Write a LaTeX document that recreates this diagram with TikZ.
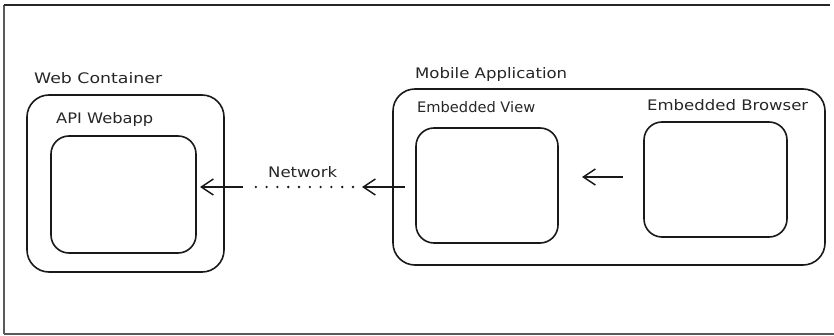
\documentclass[tikz,border=0pt]{standalone}
\usepackage{graphicx}
\usepackage{fontspec}
\setmainfont{DejaVu Sans}
\usetikzlibrary{arrows.meta}
% Stretch a label horizontally to a given width, keeping its height
\newcommand{\fitlabel}[2]{\resizebox{#1}{\height}{#2}}
\begin{document}
\begin{tikzpicture}[x=1pt,y=-1pt,
  box/.style={draw=black!90, line width=1.6pt, rounded corners=#1, inner sep=0pt},
  box/.default=18pt,
  lbl/.style={anchor=base west, inner sep=0pt, font=\fontsize{14.5}{16}\selectfont, text=black!85},
  arr/.style={draw=black!90, line width=1.6pt, -{Straight Barb[length=12pt,width=16pt,line width=1.5pt]}},
  net/.style={draw=black!90, line width=2.6pt, dash pattern=on 0pt off 10.8pt, line cap=round},
  frame/.style={line width=1.2pt, draw=black!65}]
\useasboundingbox (0,0) rectangle (834,336);

% page frame
\draw[frame] (4,334) -- (834,334);
\draw[frame] (4,5) -- (4,334);
\draw[line width=1.6pt, draw=black!85] (4,5) -- (830,5);

% containers
\node[box=22pt, minimum width=197pt, minimum height=177pt] (web) at (125.5,183.5) {};
\node[box=22pt, minimum width=432pt, minimum height=176pt] (mob) at (609,177) {};

% components
\node[box, minimum width=145pt, minimum height=117pt] (api) at (123.5,194.5) {};
\node[box, minimum width=142pt, minimum height=115pt] (ev) at (487,185.5) {};
\node[box, minimum width=143pt, minimum height=115pt] (eb) at (715.5,179.5) {};

% labels
\node[lbl] (webl) at (34,84) {\fitlabel{128pt}{Web Container}};
\node[lbl] (apil) at (56,124) {\fitlabel{97pt}{API Webapp}};
\node[lbl] (mobl) at (415,79) {\fitlabel{152pt}{Mobile Application}};
\node[lbl] (evl) at (417,113) {\fitlabel{118pt}{Embedded View}};
\node[lbl] (ebl) at (647,111) {\fitlabel{161pt}{Embedded Browser}};
\node[lbl] (netl) at (268,178) {\fitlabel{69pt}{Network}};

% connectors
\coordinate (evout) at (405,187);
\coordinate (netend) at (362,187);
\coordinate (dotA) at (353,187);
\coordinate (dotB) at (255,187);
\coordinate (apiin) at (243,187);
\coordinate (apitip) at (200,187);
\coordinate (ebout) at (623,177);
\coordinate (evin) at (582,177);

\draw[arr] (ebout) -- (evin);
\draw[arr] (evout) -- (netend);
\draw[net] (dotA) -- (dotB);
\draw[arr] (apiin) -- (apitip);
\end{tikzpicture}
\end{document}
